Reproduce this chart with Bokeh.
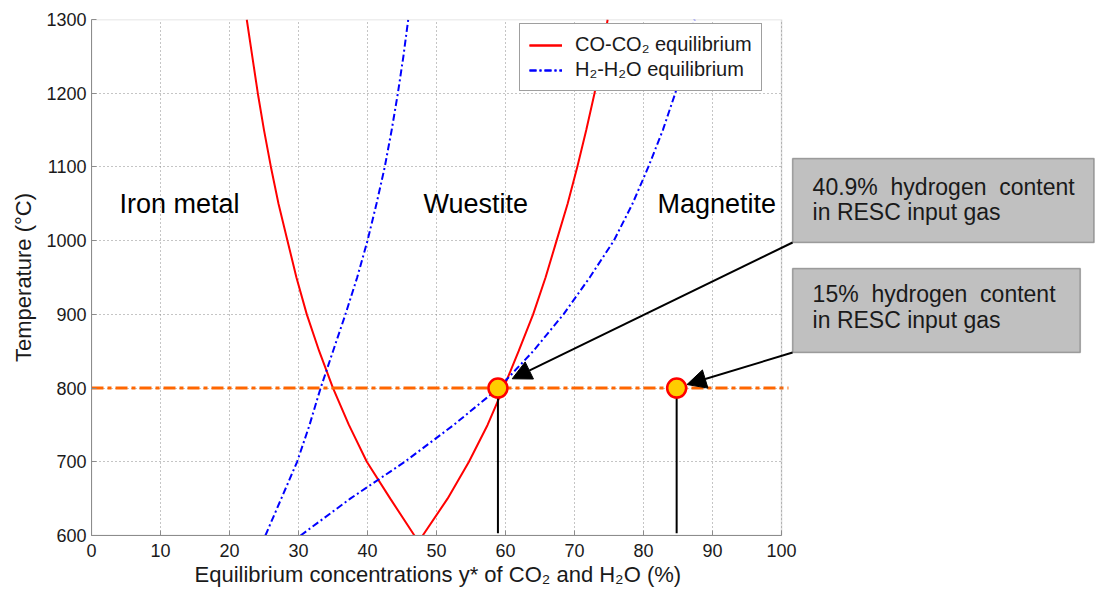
from bokeh.plotting import figure
from bokeh.models import Range1d, BoxAnnotation, Label, Arrow, NormalHead, FixedTicker, Title
from bokeh.embed import file_html
from bokeh.resources import INLINE

# ---- data ----
temps = [600, 650, 700, 750, 800, 850, 900, 950, 1000, 1050, 1100, 1150, 1200, 1250, 1300]
co_fe_feo = [46.8, 43.3, 39.9, 37.3, 35.0, 33.0, 31.2, 29.7, 28.4, 27.1, 26.0, 25.0, 24.1, 23.3, 22.5]
co_feo_fe3o4 = [48.0, 51.6, 54.7, 57.4, 59.7, 61.9, 64.0, 65.8, 67.4, 69.0, 70.4, 71.7, 72.9, 73.9, 74.8]
h2_fe_feo = [25.2, 27.5, 29.8, 31.6, 33.2, 35.0, 36.8, 38.5, 40.0, 41.3, 42.5, 43.5, 44.4, 45.2, 45.9]
h2_feo_fe3o4 = [30.3, 37.5, 45.4, 52.5, 59.0, 64.0, 68.4, 72.2, 75.7, 78.4, 80.7, 82.8, 84.6, 86.1, 87.4]

ref_line_x = [0, 101]
ref_line_T = [800, 800]
op_x = [58.9, 84.8]
op_T = [800, 800]
op_base_T = [603, 603]

x_ticks = [0, 10, 20, 30, 40, 50, 60, 70, 80, 90, 100]
y_ticks = [600, 700, 800, 900, 1000, 1100, 1200, 1300]

region_names = ["Iron metal", "Wuestite", "Magnetite"]
region_x = [12.75, 55.7, 90.6]
region_T = 1050

NB = "\u00a0"
box_texts = [["40.9%" + NB + " hydrogen" + NB + " content", "in RESC input gas"],
             ["15%" + NB + " hydrogen" + NB + " content", "in RESC input gas"]]

x_label = "Equilibrium concentrations y* of CO₂ and H₂O (%)"
y_label = "Temperature (°C)"

FONT = "Liberation Sans"
AXIS_GRAY = "#8c8c8c"

p = figure(width=1095, height=601, output_backend="svg", toolbar_location=None,
           x_range=Range1d(0, 145.5), y_range=Range1d(600, 1300),
           min_border_left=91, min_border_right=0, min_border_top=19, min_border_bottom=66)
p.outline_line_color = None
p.background_fill_color = "white"
p.border_fill_color = "white"

# axes
p.xaxis.ticker = FixedTicker(ticks=x_ticks)
p.yaxis.ticker = FixedTicker(ticks=y_ticks)
p.xaxis.bounds = (0, 100)
for ax in (p.xaxis[0], p.yaxis[0]):
    ax.axis_line_color = AXIS_GRAY
    ax.major_tick_line_color = AXIS_GRAY
    ax.major_tick_in = 5
    ax.major_tick_out = 0
    ax.minor_tick_line_color = None
    ax.major_label_text_font = FONT
    ax.major_label_text_font_size = "18px"
    ax.major_label_text_color = "#1a1a1a"
    ax.axis_label_text_font = FONT
    ax.axis_label_text_font_size = "22px"
    ax.axis_label_text_font_style = "normal"
    ax.axis_label_text_color = "#1a1a1a"
p.yaxis.axis_label = y_label
p.xaxis.major_label_standoff = 8
p.yaxis.major_label_standoff = 5
p.yaxis.axis_label_standoff = 7

# x-axis title centred under the 0-100 span (the frame extends further right for the callouts)
p.add_layout(Title(text=x_label, align="left", offset=103, standoff=0,
                   text_font=FONT, text_font_size="22px", text_font_style="normal",
                   text_color="#1a1a1a"), "below")

# grid
for g in (p.xgrid[0], p.ygrid[0]):
    g.grid_line_color = "#8a8a8a"
    g.grid_line_dash = "1 3"
    g.grid_line_width = 1
p.xgrid.bounds = (0, 100)
p.ygrid.cross_bounds = (0, 100)

# frame box
p.add_layout(BoxAnnotation(left=0, right=100, bottom=600, top=1300,
                           fill_color=None, line_color=AXIS_GRAY, line_width=1.5))

# curves
p.line(co_fe_feo, temps, line_color="#ff0000", line_width=2, legend_label="CO-CO₂ equilibrium")
p.line(co_feo_fe3o4, temps, line_color="#ff0000", line_width=2, legend_label="CO-CO₂ equilibrium")
p.line(h2_fe_feo, temps, line_color="#0000ff", line_width=2, line_dash="7 3 2 3",
       legend_label="H₂-H₂O equilibrium")
p.line(h2_feo_fe3o4, temps, line_color="#0000ff", line_width=2, line_dash="7 3 2 3",
       legend_label="H₂-H₂O equilibrium")

# 800 C reference line and operating points
p.line(ref_line_x, ref_line_T, line_color="#ff6600", line_width=3, line_dash="12 4 4 4")
p.segment(x0=op_x, y0=op_T, x1=op_x, y1=op_base_T, line_color="black", line_width=2)
p.scatter(op_x, op_T, size=19, fill_color="#ffcc00", line_color="#ff0000", line_width=2.5)

# region labels
for name, xx in zip(region_names, region_x):
    p.add_layout(Label(x=xx, y=region_T, text=name, text_align="center", text_baseline="middle",
                       text_font=FONT, text_font_size="27px", text_color="black"))

# callout boxes
boxes = [(101.6, 145.3, 1111.4, 997.5), (101.6, 143.3, 962.2, 848.2)]
line_T = [(1072.5, 1038.6), (927.9, 891.7)]
tips = [(60.97, 812.6), (86.3, 804.8)]
for (l, r, t, b), (t1, t2), texts, (tx, ty) in zip(boxes, line_T, box_texts, tips):
    p.add_layout(BoxAnnotation(left=l, right=r, top=t, bottom=b, fill_color="#c0c0c0",
                               fill_alpha=1, line_color="black", line_width=1.5))
    for yy, tt in zip((t1, t2), texts):
        p.add_layout(Label(x=104.5, y=yy, text=tt, text_baseline="middle",
                           text_font=FONT, text_font_size="23px", text_color="#1a1a1a"))
    p.add_layout(Arrow(end=NormalHead(size=19, fill_color="black", line_color="black"),
                       x_start=l, y_start=b, x_end=tx, y_end=ty,
                       line_color="black", line_width=2))

# legend
lg = p.legend[0]
lg.location = (428, 444)
lg.label_text_font = FONT
lg.label_text_font_size = "20px"
lg.label_text_color = "#1a1a1a"
lg.glyph_width = 33
lg.glyph_height = 22
lg.label_height = 22
lg.label_standoff = 13
lg.spacing = 2
lg.padding = 9
lg.margin = 0
lg.border_line_color = "#404040"
lg.border_line_width = 1
lg.background_fill_alpha = 1

open("out.html", "w").write(file_html(p, INLINE))
